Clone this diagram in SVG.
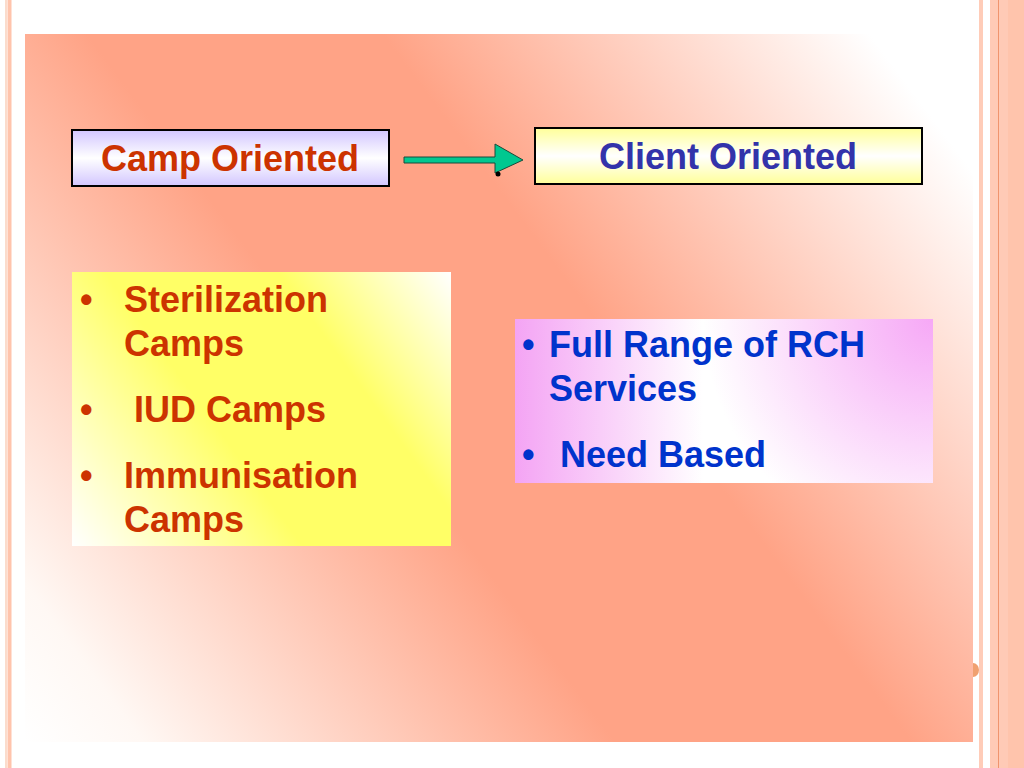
<svg xmlns="http://www.w3.org/2000/svg" width="1024" height="768" viewBox="0 0 1024 768">
<defs>
<style>
.t{font-family:"Liberation Sans",Arial,sans-serif;font-weight:bold;font-size:36px}
.red{fill:#CC3300}
.blue{fill:#0033CC}
.navy{fill:#3333AA}
.box{stroke:#000;stroke-width:2}
</style>
<linearGradient id="bg" gradientUnits="userSpaceOnUse" x1="25" y1="742" x2="973" y2="34">
<stop offset="0" stop-color="#fff"/>
<stop offset="0.08" stop-color="#FFF8F4"/>
<stop offset="0.4" stop-color="#FFA386"/>
<stop offset="0.6" stop-color="#FFA386"/>
<stop offset="0.93" stop-color="#fff"/>
<stop offset="1" stop-color="#fff"/>
</linearGradient>
<linearGradient id="lav" x1="0" y1="0" x2="0" y2="1">
<stop offset="0" stop-color="#D2C6FF"/>
<stop offset="0.5" stop-color="#fff"/>
<stop offset="1" stop-color="#D2C6FF"/>
</linearGradient>
<linearGradient id="yel" x1="0" y1="0" x2="0" y2="1">
<stop offset="0" stop-color="#FFFF99"/>
<stop offset="0.5" stop-color="#fff"/>
<stop offset="1" stop-color="#FFFF99"/>
</linearGradient>
<linearGradient id="yel2" gradientUnits="userSpaceOnUse" x1="72" y1="546" x2="451" y2="272">
<stop offset="0" stop-color="#fff"/>
<stop offset="0.4" stop-color="#FFFF66"/>
<stop offset="0.7" stop-color="#FFFF66"/>
<stop offset="1" stop-color="#fff"/>
</linearGradient>
<linearGradient id="pk" x1="0" y1="0" x2="1" y2="0">
<stop offset="0" stop-color="#F4A4F4"/>
<stop offset="0.45" stop-color="#fff"/>
<stop offset="1" stop-color="#fff"/>
</linearGradient>
<radialGradient id="pk2" gradientUnits="userSpaceOnUse" cx="933" cy="319" r="230">
<stop offset="0" stop-color="#F6A8F6" stop-opacity="1"/>
<stop offset="1" stop-color="#F6A8F6" stop-opacity="0"/>
</radialGradient>
</defs>
<rect width="1024" height="768" fill="#fff"/>
<rect x="5" y="0" width="2" height="768" fill="#FBDCCC"/>
<rect x="7.5" y="0" width="4" height="768" fill="#FFC4AC"/>
<rect x="979" y="0" width="4" height="768" fill="#FFCCB8"/>
<rect x="990" y="0" width="34" height="768" fill="#FFCAB6"/>
<rect x="1008" y="0" width="16" height="768" fill="#FFC4AC"/>
<line x1="998.5" y1="0" x2="998.5" y2="768" stroke="#F0946E" stroke-width="1"/>
<rect x="25" y="34" width="948" height="708" fill="url(#bg)"/>
<path d="M973,663 A6,7 0 0 1 973,677 Z" fill="#F0A070"/>
<g id="connectors">
<path d="M404,157 H495 V144 L523,160 L495,173 V163 H404 Z" fill="#00C890" stroke="#1a4a3a" stroke-width="1"/>
<circle cx="498" cy="174" r="2.5" fill="#000"/>
</g>
<g id="camp-oriented">
<rect class="box" x="72" y="130" width="317" height="56" fill="url(#lav)"/>
<text class="t red" x="230" y="171" text-anchor="middle">Camp Oriented</text>
</g>
<g id="client-oriented">
<rect class="box" x="535" y="128" width="387" height="56" fill="url(#yel)"/>
<text class="t navy" x="728" y="169" text-anchor="middle">Client Oriented</text>
</g>
<g id="camp-list">
<rect x="72" y="272" width="379" height="274" fill="url(#yel2)"/>
<text class="t red" x="80" y="312">•</text>
<text class="t red" x="124" y="312">Sterilization</text>
<text class="t red" x="124" y="356">Camps</text>
<text class="t red" x="80" y="422">•</text>
<text class="t red" x="134" y="422">IUD Camps</text>
<text class="t red" x="80" y="488">•</text>
<text class="t red" x="124" y="488">Immunisation</text>
<text class="t red" x="124" y="532">Camps</text>
</g>
<g id="client-list">
<rect x="515" y="319" width="418" height="164" fill="url(#pk)"/>
<rect x="515" y="319" width="418" height="164" fill="url(#pk2)"/>
<text class="t blue" x="522" y="357">•</text>
<text class="t blue" x="549" y="357">Full Range of RCH</text>
<text class="t blue" x="549" y="401">Services</text>
<text class="t blue" x="522" y="467">•</text>
<text class="t blue" x="560" y="467">Need Based</text>
</g>
</svg>
